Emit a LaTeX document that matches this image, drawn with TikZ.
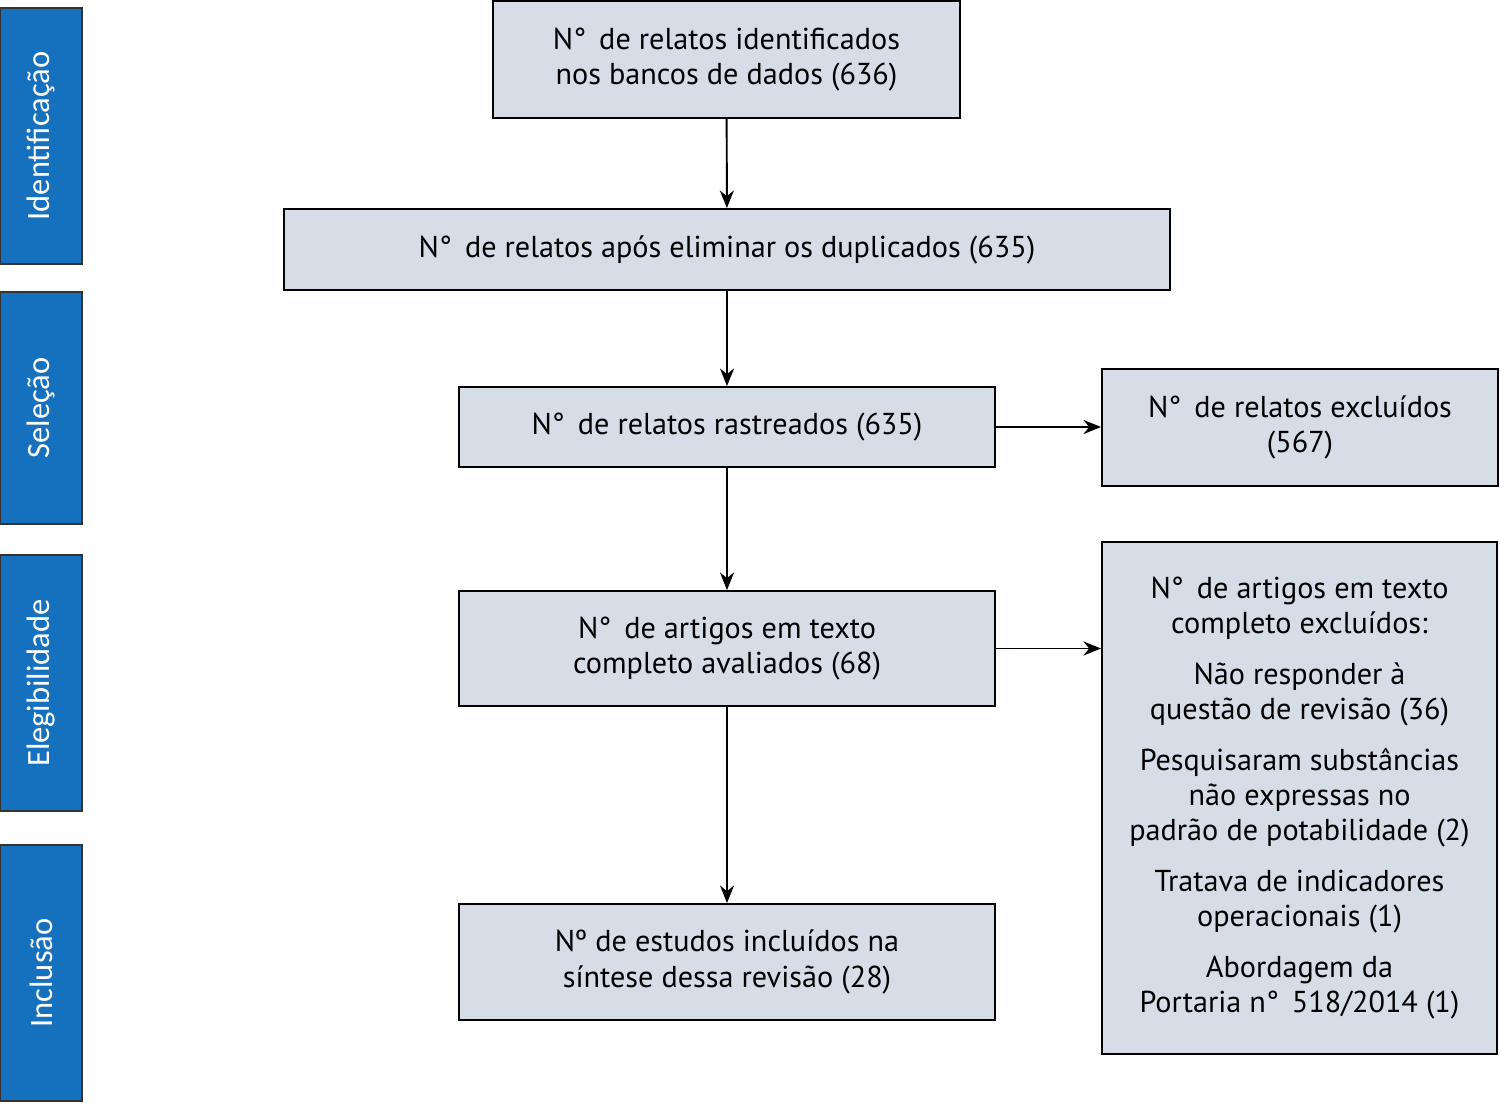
\documentclass[tikz,border=0pt]{standalone}
\usepackage{fontspec}
\setmainfont{PT Sans}
\newfontfamily\sidefont{Carlito}
\usetikzlibrary{arrows.meta}
\definecolor{phaseblue}{HTML}{1570BE}
\definecolor{boxgray}{HTML}{D6DDE7}
\begin{document}
\begin{tikzpicture}[
    box/.style={draw=black, line width=1.1pt, fill=boxgray, align=center,
        inner sep=0pt, font=\fontsize{17.2}{20}\selectfont},
    phase/.style={draw=black!80, line width=1.1pt, fill=phaseblue, text=white,
        inner sep=0pt, rotate=90, font=\sidefont\fontsize{18.5}{20}\selectfont},
    flow/.style={-{Stealth[length=10pt,width=8pt]}, line width=1.1pt}
]
        \useasboundingbox (0,0) rectangle (30,-22.06);

        % fases
        \node[phase, minimum width=5.12cm, minimum height=1.64cm] (ident) at (0.82,-2.72) {Identificação};
        \node[phase, minimum width=4.64cm, minimum height=1.64cm] (selec) at (0.82,-8.16) {Seleção};
        \node[phase, minimum width=5.12cm, minimum height=1.64cm] (eleg) at (0.82,-13.66) {Elegibilidade};
        \node[phase, minimum width=5.12cm, minimum height=1.64cm] (incl) at (0.82,-19.46) {Inclusão};

        % caixas principais
        \node[box, minimum width=9.34cm, minimum height=2.34cm] (ident1) at (14.53,-1.19)
            {N°\, de relatos identificados\\nos bancos de dados (636)};
        \node[box, minimum width=17.72cm, minimum height=1.62cm] (dupl) at (14.54,-4.99)
            {N°\, de relatos após eliminar os duplicados (635)};
        \node[box, minimum width=10.72cm, minimum height=1.6cm] (rastr) at (14.54,-8.54)
            {N°\, de relatos rastreados (635)};
        \node[box, minimum width=10.72cm, minimum height=2.3cm] (aval) at (14.54,-12.97)
            {N°\, de artigos em texto\\completo avaliados (68)};
        \node[box, minimum width=10.72cm, minimum height=2.32cm] (sint) at (14.54,-19.24)
            {Nº de estudos incluídos na\\síntese dessa revisão (28)};

        % exclusoes
        \node[box, minimum width=7.92cm, minimum height=2.34cm] (excl1) at (26.0,-8.55)
            {N°\, de relatos excluídos\\(567)};
        \node[box, minimum width=7.9cm, minimum height=10.24cm] (excl2) at (25.99,-15.96)
            {N°\, de artigos em texto\\completo excluídos:\\[9pt]
             Não responder à\\questão de revisão (36)\\[9pt]
             Pesquisaram substâncias\\não expressas no\\padrão de potabilidade (2)\\[9pt]
             Tratava de indicadores\\operacionais (1)\\[9pt]
             Abordagem da\\Portaria n°\, 518/2014 (1)};

        \draw[flow] (ident1) -- (dupl);
        \draw[flow] (dupl) -- (rastr);
        \draw[flow] (rastr) -- (aval);
        \draw[flow] (aval) -- (sint);
        \draw[flow] (rastr.east) -- (excl1.west |- rastr.east);
        \draw[flow] (aval.east) -- (excl2.west |- aval.east);

\end{tikzpicture}
\end{document}
